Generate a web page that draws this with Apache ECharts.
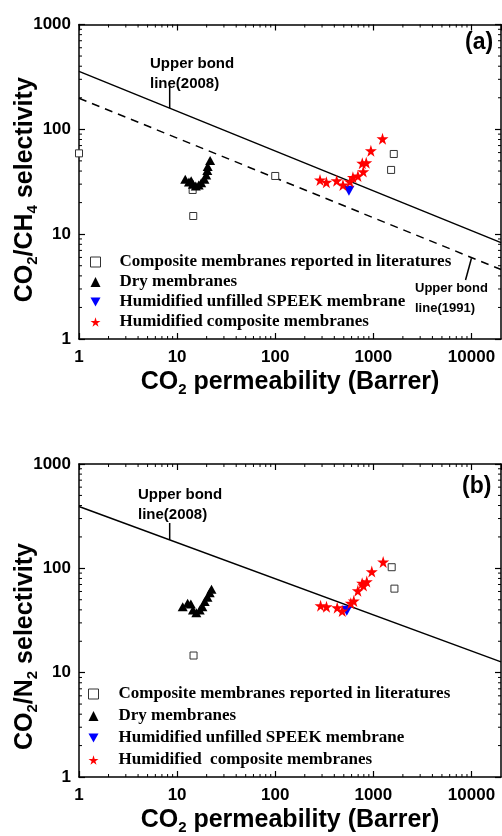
<!DOCTYPE html>
<html><head><meta charset="utf-8">
<script src="https://cdn.jsdelivr.net/npm/echarts@6/dist/echarts.min.js"></script>
<style>html,body{margin:0;padding:0;background:#fff}#c{width:502px;height:836px}</style>
</head><body><div id="c"></div>
<script>
// ---- data (CO2 permeability [Barrer], selectivity) ----
const legendNamesA = ['Composite membranes reported in literatures','Dry membranes','Humidified unfilled SPEEK membrane','Humidified composite membranes'];
const legendNamesB = ['Composite membranes reported in literatures','Dry membranes','Humidified unfilled SPEEK membrane','Humidified  composite membranes'];

const ch4Composite = [[1,59],[14.4,26.4],[14.6,14.9],[100,35.9],[1615,58.2],[1517,41]];
const ch4Dry = [[12.1,33.4],[13.2,31.5],[13.9,32.4],[14.5,29.9],[15.5,28.8],[16.6,29.5],[17.6,31.0],[19.0,33.4],[19.8,36.7],[20.3,40.4],[20.5,44.1],[21.7,50.3]];
const ch4Speek = [[564,26.0]];
const ch4Humid = [[286,32.9],[332,31.3],[423,32.4],[490,29.5],[577,31.7],[619,34.9],[696,35.9],[789,39.5],[771,47.5],[846,48.1],[944,62.6],[1240,81.5]];
const ch4Upper2008 = [[1,357],[20000,8.3]];
const ch4Upper1991 = [[1,198],[20000,4.6]];
const ch4Leader2008 = [[8.4,160],[8.4,254]];
const ch4Leader1991 = [[10000,5.9],[8700,3.65]];

const n2Composite = [[14.7,14.6],[1538,102.5],[1640,63.9]];
const n2Dry = [[11.4,42.9],[12.8,46.3],[13.8,45.6],[14.5,39.9],[15.7,37.6],[17.0,39.9],[18.1,42.9],[19.1,48.0],[20.4,52.9],[21.5,58.5],[22.4,63.0]];
const n2Speek = [[536,39.3]];
const n2Humid = [[290,43.9],[333,42.9],[428,42.0],[482,39.0],[589,46.3],[632,48.7],[695,61.1],[793,68.3],[769,72],[857,74.6],[964,93],[1259,115]];
const n2Upper2008 = [[1,392],[20000,12.7]];
const n2Leader2008 = [[8.4,188],[8.4,272]];

const xMin = 1, xMax = 20000, yMin = 1, yMax = 1000;
const xMinorTicks = [2,3,4,5,6,7,8,9,20,30,40,50,60,70,80,90,200,300,400,500,600,700,800,900,2000,3000,4000,5000,6000,7000,8000,9000];
const yMinorTicks = [2,3,4,5,6,7,8,9,20,30,40,50,60,70,80,90,200,300,400,500,600,700,800,900];

// ---- styles ----
const SANS = 'Liberation Sans, Arial, sans-serif';
const SERIF = 'Liberation Serif, Times New Roman, serif';
const STAR = 'path://M50,0 L61,35 L98,35 L68,57 L79,91 L50,70 L21,91 L32,57 L2,35 L39,35 Z';
const DOWN_TRI = 'path://M0,0 L10,0 L5,9 Z';

const chart = echarts.init(document.getElementById('c'), null, {renderer:'canvas'});

function nameRich(pad){
  return {
    fontFamily:SANS, fontWeight:'bold', fontSize:25, color:'#000', padding:pad || 0,
    rich:{
      a:{fontFamily:SANS, fontWeight:'bold', fontSize:25, color:'#000'},
      s:{fontFamily:SANS, fontWeight:'bold', fontSize:15, color:'#000', padding:[14,0,0,0]}
    }
  };
}
const plainNum = v => String(Math.round(v));
function mainX(grid){
  return {type:'log', gridIndex:grid, min:xMin, max:xMax, logBase:10, position:'bottom',
    name:'{a|CO}{s|2}{a| permeability (Barrer)}', nameLocation:'middle', nameGap:29, nameTextStyle:nameRich(),
    axisLine:{lineStyle:{color:'#000', width:1.5}},
    axisTick:{inside:true, length:6, lineStyle:{color:'#000', width:1.2}},
    axisLabel:{fontFamily:SANS, fontWeight:'bold', fontSize:17, color:'#000', margin:10, showMaxLabel:false, formatter:plainNum},
    splitLine:{show:false}};
}
function mirrorX(grid){
  return {type:'log', gridIndex:grid, min:xMin, max:xMax, logBase:10, position:'top',
    axisLine:{lineStyle:{color:'#000', width:1.5}},
    axisTick:{inside:true, length:6, lineStyle:{color:'#000', width:1.2}},
    axisLabel:{show:false}, splitLine:{show:false}};
}
function mainY(grid, name, pad){
  return {type:'log', gridIndex:grid, min:yMin, max:yMax, logBase:10, position:'left',
    name:name, nameLocation:'middle', nameGap:39, nameMoveOverlap:false, nameTextStyle:nameRich(pad),
    axisLine:{lineStyle:{color:'#000', width:1.5}},
    axisTick:{inside:true, length:6, lineStyle:{color:'#000', width:1.2}},
    axisLabel:{fontFamily:SANS, fontWeight:'bold', fontSize:17, color:'#000', margin:8, formatter:plainNum},
    splitLine:{show:false}};
}
function mirrorY(grid){
  return {type:'log', gridIndex:grid, min:yMin, max:yMax, logBase:10, position:'right',
    axisLine:{lineStyle:{color:'#000', width:1.5}},
    axisTick:{inside:true, length:6, lineStyle:{color:'#000', width:1.2}},
    axisLabel:{show:false}, splitLine:{show:false}};
}

function minorX(xi, yi){
  return {type:'custom', xAxisIndex:xi, yAxisIndex:yi, silent:true, z:1,
    data:xMinorTicks.map(v => [v, yMin]),
    renderItem:function(params, api){
      const v = api.value(0);
      const b = api.coord([v, yMin]), t = api.coord([v, yMax]);
      const st = {stroke:'#000', lineWidth:1};
      return {type:'group', children:[
        {type:'line', shape:{x1:b[0], y1:b[1], x2:b[0], y2:b[1]-3}, style:st},
        {type:'line', shape:{x1:t[0], y1:t[1], x2:t[0], y2:t[1]+3}, style:st}
      ]};
    }};
}
function minorY(xi, yi){
  return {type:'custom', xAxisIndex:xi, yAxisIndex:yi, silent:true, z:1,
    data:yMinorTicks.map(v => [xMin, v]),
    renderItem:function(params, api){
      const v = api.value(1);
      const l = api.coord([xMin, v]), r = api.coord([xMax, v]);
      const st = {stroke:'#000', lineWidth:1};
      return {type:'group', children:[
        {type:'line', shape:{x1:l[0], y1:l[1], x2:l[0]+3, y2:l[1]}, style:st},
        {type:'line', shape:{x1:r[0], y1:r[1], x2:r[0]-3, y2:r[1]}, style:st}
      ]};
    }};
}
function boundLine(data, xi, yi, dashed){
  return {type:'line', xAxisIndex:xi, yAxisIndex:yi, data:data, symbol:'none', silent:true, z:2,
    lineStyle:{color:'#000', width:1.5, type: dashed ? [8,6] : 'solid'}};
}
function scatterSet(names, comp, dry, speek, humid, xi, yi){
  return [
    {type:'scatter', name:names[0], xAxisIndex:xi, yAxisIndex:yi, data:comp, symbol:'rect', symbolSize:7, z:3,
      itemStyle:{color:'#fff', borderColor:'#333', borderWidth:1, opacity:1}},
    {type:'scatter', name:names[1], xAxisIndex:xi, yAxisIndex:yi, data:dry, symbol:'triangle', symbolSize:[10,9], z:4,
      itemStyle:{color:'#000', opacity:1}},
    {type:'scatter', name:names[2], xAxisIndex:xi, yAxisIndex:yi, data:speek, symbol:'triangle', symbolRotate:180, symbolSize:[11,10], z:5,
      itemStyle:{color:'#0000ff', opacity:1}},
    {type:'scatter', name:names[3], xAxisIndex:xi, yAxisIndex:yi, data:humid, symbol:STAR, symbolSize:12, z:6,
      itemStyle:{color:'#ff0000', opacity:1}}
  ];
}
function legendAt(left, top, names, lh, pad){
  const data = names.map((n, i) => i === 2 ? {name:n, icon:DOWN_TRI} : {name:n});
  return {orient:'vertical', left:left, top:top, data:data, itemWidth:10, itemHeight:10, itemGap:0, padding:0,
    selectedMode:false, itemStyle:{borderWidth:1},
    textStyle:{fontFamily:SERIF, fontWeight:'bold', fontSize:17, color:'#000', lineHeight:lh, padding:[0,0,0,pad]}};
}
function annText(x, y, txt, size){
  return {type:'text', left:x, top:y, silent:true, z:100,
    style:{text:txt, fill:'#000', font:'bold '+size+'px '+SANS, lineHeight:20}};
}

const option = {
  animation:false,
  backgroundColor:'#fff',
  grid:[
    {left:79, top:24.5, width:422, height:314.5, outerBoundsMode:'none', containLabel:false},
    {left:79, top:464, width:422, height:313, outerBoundsMode:'none', containLabel:false}
  ],
  xAxis:[mainX(0), mirrorX(0), mainX(1), mirrorX(1)],
  yAxis:[mainY(0,'{a|CO}{s|2}{a|/CH}{s|4}{a| selectivity}', [0,16,0,0]), mirrorY(0),
         mainY(1,'{a|CO}{s|2}{a|/N}{s|2}{a| selectivity}', [0,52,0,0]), mirrorY(1)],
  legend:[legendAt(90, 252, legendNamesA, 20, 14), legendAt(88, 683, legendNamesB, 22, 15)],
  series:[
    minorX(0,0), minorY(0,0), minorX(2,2), minorY(2,2),
    boundLine(ch4Upper2008,0,0,false), boundLine(ch4Upper1991,0,0,true),
    boundLine(ch4Leader2008,0,0,false), boundLine(ch4Leader1991,0,0,false),
    boundLine(n2Upper2008,2,2,false), boundLine(n2Leader2008,2,2,false),
    ...scatterSet(legendNamesA, ch4Composite, ch4Dry, ch4Speek, ch4Humid, 0, 0),
    ...scatterSet(legendNamesB, n2Composite, n2Dry, n2Speek, n2Humid, 2, 2)
  ],
  graphic:[
    {type:'text', left:465, top:31, silent:true, z:100, style:{text:'(a)', fill:'#000', font:'bold 23px '+SANS}},
    {type:'text', left:462, top:475, silent:true, z:100, style:{text:'(b)', fill:'#000', font:'bold 23px '+SANS}},
    annText(150, 54, 'Upper bond\nline(2008)', 15),
    annText(415, 278, 'Upper bond\nline(1991)', 13),
    annText(138, 485, 'Upper bond\nline(2008)', 15)
  ]
};
chart.setOption(option);
</script>
</body></html>
